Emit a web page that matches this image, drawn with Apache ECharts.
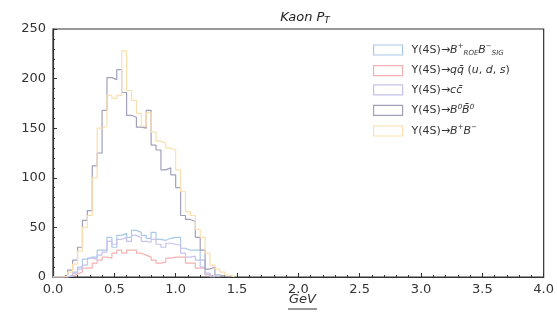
<!DOCTYPE html>
<html>
<head>
<meta charset="utf-8">
<script src="https://cdn.jsdelivr.net/npm/echarts@6/dist/echarts.min.js"></script>
<style>
  html, body { margin: 0; padding: 0; background: #fff; }
  #chart { width: 557px; height: 324px; }
</style>
</head>
<body>
<div id="chart"></div>
<script>
// histogram bins: 0.04 GeV wide starting at 0
const binWidth = 0.04;
const xTicks = [0, 0.5, 1.0, 1.5, 2.0, 2.5, 3.0, 3.5, 4.0];

const sigCounts = [0, 0, 0, 2, 5, 10, 18, 20, 20, 27, 27, 40, 30, 42, 44, 40, 47, 45, 42, 39,
  45, 38, 37, 39, 40, 40, 29, 27, 27, 27, 17, 3, 0];
const qqCounts = [0, 0, 0, 1, 3, 5, 9, 9, 14, 17, 20, 19, 24, 27, 24, 27, 27, 24, 22, 20,
  17, 14, 15, 19, 20, 20, 20, 14, 14, 9, 9, 2, 0];
const ccCounts = [0, 0, 0, 1, 4, 8, 12, 19, 18, 22, 25, 36, 33, 38, 40, 36, 42, 40, 36, 35,
  38, 33, 30, 34, 33, 32, 24, 20, 21, 17, 10, 4, 1, 0];
const b0Counts = [0, 0, 2, 7, 17, 30, 57, 67, 112, 125, 168, 201, 199, 209, 186, 163, 161, 151, 150, 168,
  133, 128, 108, 110, 103, 90, 62, 58, 56, 40, 27, 8, 10, 2, 1, 0];
const bpmCounts = [0, 0, 1, 5, 13, 26, 50, 62, 100, 150, 152, 183, 180, 183, 228, 188, 178, 165, 152, 166,
  146, 137, 135, 130, 128, 108, 86, 66, 62, 48, 40, 24, 12, 8, 5, 2, 0];

const seriesNames = ['sig', 'qq', 'cc', 'b0', 'bpm'];
const seriesColors = ['#a9c9e6', '#f3b1b1', '#c6c2ee', '#a0a0ba', '#fcdfae'];
const seriesCounts = [sigCounts, qqCounts, ccCounts, b0Counts, bpmCounts];
const legendLabels = {
  sig: '{n|Υ(4S)→}{i|B}{sup|+}{sub|ROE}{i|B}{sup|−}{sub|SIG}',
  qq: '{n|Υ(4S)→}{i|q}{i|q̄}{n| (}{i|u}{n|, }{i|d}{n|, }{i|s}{n|)}',
  cc: '{n|Υ(4S)→}{i|c}{i|c̄}',
  b0: '{n|Υ(4S)→}{i|B}{sup|0}{i|B̄}{sup|0}',
  bpm: '{n|Υ(4S)→}{i|B}{sup|+}{i|B}{sup|−}'
};

function toSteps(counts) {
  const pts = counts.map((c, i) => [i * binWidth, c]);
  pts.push([counts.length * binWidth, 0]);
  return pts;
}

const chart = echarts.init(document.getElementById('chart'));
const font = 'DejaVu Sans';

const option = {
  animation: false,
  backgroundColor: '#fff',
  title: {
    text: '{i|Kaon P}{sub|T}',
    left: 300,
    textAlign: 'center',
    top: 5,
    textStyle: {
      fontWeight: 'normal',
      rich: {
        i: { fontFamily: font, fontStyle: 'italic', fontWeight: 'normal', fontSize: 13, color: '#222' },
        sub: { fontFamily: font, fontStyle: 'italic', fontWeight: 'normal', fontSize: 9, color: '#222', verticalAlign: 'bottom', padding: [6, 0, 0, 0] }
      }
    }
  },
  grid: {
    left: 53, right: 10, top: 29, bottom: 47,
    show: true, borderColor: '#333', borderWidth: 1.2, backgroundColor: 'transparent'
  },
  legend: {
    orient: 'vertical',
    left: 368,
    top: 38,
    itemWidth: 29,
    itemHeight: 10,
    itemGap: 8,
    icon: 'rect',
    data: seriesNames.map((n, k) => ({
      name: n,
      itemStyle: { color: 'rgba(0,0,0,0)', borderColor: seriesColors[k], borderWidth: 1.2 }
    })),
    formatter: (name) => legendLabels[name],
    textStyle: {
      padding: [0, 0, 0, 4],
      rich: {
        n: { fontFamily: font, fontSize: 11, color: '#333', lineHeight: 14 },
        i: { fontFamily: font, fontStyle: 'italic', fontSize: 11, color: '#333', lineHeight: 14 },
        sup: { fontFamily: font, fontStyle: 'italic', fontSize: 7, color: '#333', verticalAlign: 'top', lineHeight: 14 },
        sub: { fontFamily: font, fontStyle: 'italic', fontSize: 7, color: '#333', verticalAlign: 'bottom', lineHeight: 14 }
      }
    }
  },
  xAxis: {
    type: 'value',
    min: 0,
    max: 4,
    interval: 0.5,
    axisLine: { show: true, lineStyle: { color: '#333', width: 1.2 } },
    axisTick: { show: true, inside: true, length: 4, lineStyle: { color: '#333' } },
    minorTick: { show: true, splitNumber: 5, length: 2, lineStyle: { color: '#333' } },
    splitLine: { show: false },
    axisLabel: {
      fontFamily: font, fontSize: 13, color: '#333', margin: 6,
      formatter: (v) => xTicks.includes(v) ? v.toFixed(1) : ''
    }
  },
  yAxis: {
    type: 'value',
    min: 0,
    max: 250,
    interval: 50,
    axisLine: { show: true, lineStyle: { color: '#333', width: 1.2 } },
    axisTick: { show: true, inside: true, length: 4, lineStyle: { color: '#333' } },
    minorTick: { show: true, splitNumber: 5, length: 2, lineStyle: { color: '#333' } },
    splitLine: { show: false },
    axisLabel: { fontFamily: font, fontSize: 13, color: '#333', margin: 7 }
  },
  graphic: [
    {
      type: 'text',
      left: 289,
      top: 293,
      style: { text: 'GeV', fontFamily: font, fontStyle: 'italic', fontSize: 13, fill: '#333' }
    },
    {
      type: 'line',
      shape: { x1: 288, y1: 309, x2: 317, y2: 309 },
      style: { stroke: '#333', lineWidth: 1 }
    }
  ],
  series: seriesNames.map((n, k) => ({
    name: n,
    type: 'line',
    step: 'end',
    showSymbol: false,
    symbol: 'none',
    data: toSteps(seriesCounts[k]),
    lineStyle: { color: seriesColors[k], width: 1.2 },
    itemStyle: { color: seriesColors[k] },
    z: 2 + k
  }))
};

chart.setOption(option);
</script>
</body>
</html>
